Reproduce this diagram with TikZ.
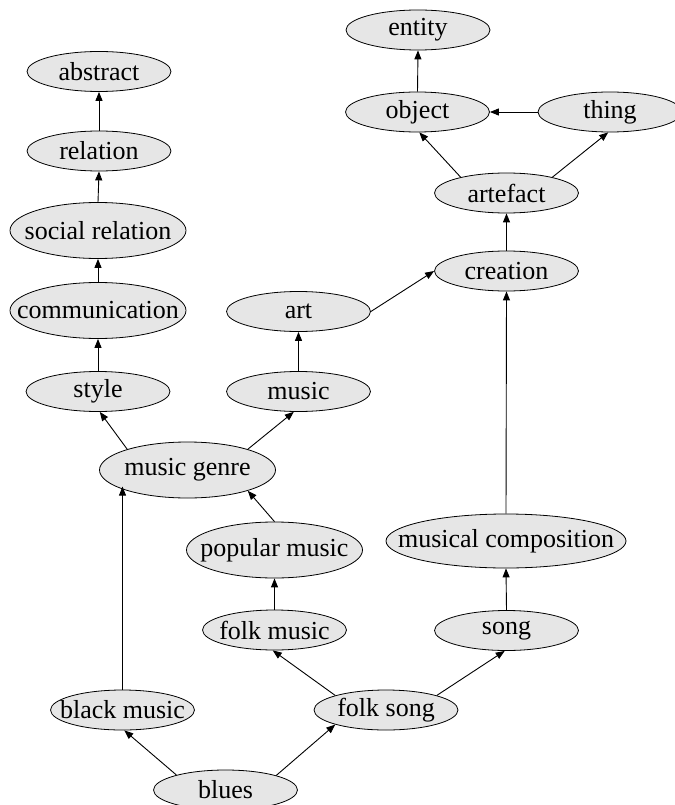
\documentclass[tikz,border=0pt]{standalone}
\usepackage{fontspec}
\setmainfont{Liberation Serif}
\usetikzlibrary{shapes.geometric,arrows.meta}
\definecolor{nodefill}{HTML}{E6E6E6}
\newcommand\ntext[1]{\makebox[0pt]{#1}}
\tikzset{
  concept/.style={ellipse, draw=black, line width=0.8pt, fill=nodefill, inner sep=0pt,
    minimum width=144pt, minimum height=40pt,
    font=\fontsize{26}{30}\selectfont},
  wide/.style={minimum width=176pt, minimum height=56pt},
  isa/.style={draw=black, line width=0.9pt, -{Triangle[length=9pt,width=7pt]}}
}
\begin{document}
\begin{tikzpicture}[x=1pt,y=-1pt]
\useasboundingbox (0,0) rectangle (674,805);
\node[concept] (entity) at (418,30) {\ntext{entity}};
\node[concept] (abstract) at (99,71.5) {\ntext{abstract}};
\node[concept] (relation) at (99,151) {\ntext{relation}};
\node[concept] (object) at (417.5,112) {\ntext{object}};
\node[concept] (thing) at (610,112) {\ntext{thing}};
\node[concept] (artefact) at (506.5,193) {\ntext{artefact}};
\node[concept,wide] (socrel) at (98,230.5) {\ntext{social relation}};
\node[concept] (creation) at (506.5,271) {\ntext{creation}};
\node[concept,wide] (comm) at (98,310.5) {\ntext{communication}};
\node[concept] (art) at (298.5,311.5) {\ntext{art}};
\node[concept] (style) at (98,391.5) {\ntext{style}};
\node[concept] (music) at (298.5,391.5) {\ntext{music}};
\node[concept,wide] (genre) at (187.5,470) {\ntext{music genre}};
\node[concept,wide] (popular) at (274.5,550) {\ntext{popular music}};
\node[concept,wide,minimum width=240pt,minimum height=54pt] (composition) at (506,541) {\ntext{musical composition}};
\node[concept] (folkmusic) at (274.5,630) {\ntext{folk music}};
\node[concept] (song) at (506.5,630.5) {\ntext{song}};
\node[concept] (black) at (122.5,710) {\ntext{black music}};
\node[concept] (folksong) at (386,710) {\ntext{folk song}};
\node[concept] (blues) at (225.5,790) {\ntext{blues}};

\draw[isa] (object.north) -- (entity.south);
\draw[isa] (thing.west) -- (object.east);
\draw[isa] (artefact.161) -- (object.275);
\draw[isa] (artefact.19) -- (thing.265);
\draw[isa] (creation.north) -- (artefact.south);
\draw[isa] (art.east) -- (creation.west);
\draw[isa] (music.north) -- (art.south);
\draw[isa] (genre.161) -- (style.275);
\draw[isa] (genre.19) -- (music.257);
\draw[isa] (style.north) -- (comm.south);
\draw[isa] (comm.north) -- (socrel.south);
\draw[isa] (socrel.north) -- (relation.south);
\draw[isa] (relation.north) -- (abstract.south);
\draw[isa] (popular.north) -- (genre.341);
\draw[isa] (folkmusic.north) -- (popular.south);
\draw[isa] (black.north) -- (black.north |- genre.193);
\draw[isa] (folksong.164) -- (folkmusic.265);
\draw[isa] (folksong.16) -- (song.265);
\draw[isa] (song.north) -- (composition.south);
\draw[isa] (composition.north) -- (creation.south);
\draw[isa] (blues.163) -- (black.275);
\draw[isa] (blues.16) -- (folksong.196);
\end{tikzpicture}
\end{document}
